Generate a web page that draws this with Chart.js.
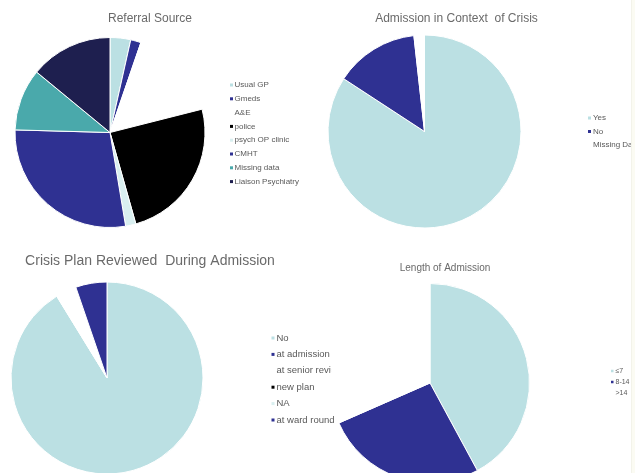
<!DOCTYPE html>
<html>
<head>
<meta charset="utf-8">
<script src="https://cdn.jsdelivr.net/npm/chart.js@4.4.1/dist/chart.umd.min.js"></script>
<style>
  html, body { margin: 0; padding: 0; background: #fff; }
  body { width: 635px; height: 473px; position: relative; overflow: hidden; }
  canvas { position: absolute; }
  #edge { position: absolute; left: 631px; top: 0; width: 4px; height: 473px; background: #fbfbf3; border-left: 1px solid #f3f3ea; }
</style>
</head>
<body>
<canvas id="referral" width="320" height="240" style="left:0;top:0"></canvas>
<canvas id="crisis" width="315" height="240" style="left:320px;top:0"></canvas>
<canvas id="plan" width="340" height="260" style="left:0;top:240px"></canvas>
<canvas id="length" width="305" height="260" style="left:330px;top:240px"></canvas>
<div id="edge"></div>
<script>
const FONT = '"Liberation Sans", Arial, sans-serif';

// colours used in the original workbook, in series order
const lightTeal = '#bbe0e3';
const blue = '#2f3192';
const white = '#ffffff';
const black = '#000000';
const paleTeal = '#d9eff0';
const teal = '#4aa9ab';
const navy = '#1e1f4f';

// Referral Source
const referralLabels = ['Usual GP', 'Gmeds', 'A&E', 'police', 'psych OP clinic', 'CMHT', 'Missing data', 'Liaison Psychiatry'];
const referralValues = [2, 1, 9, 14, 1, 16, 6, 8];

// Admission in Context of Crisis
const crisisLabels = ['Yes', 'No', 'Missing Data'];
const crisisValues = [48, 8, 1];

// Crisis Plan Reviewed During Admission
const planLabels = ['No', 'at admission', 'at senior review', 'new plan', 'NA', 'at ward round'];
const planValues = [52, 0, 2, 0, 0, 3];

// Length of Admission
const lengthLabels = ['≤7', '8-14', '>14'];
const lengthValues = [24, 15, 18];

const palette = [lightTeal, blue, white, black, paleTeal, blue, teal, navy];

// title + side legend drawn straight onto the chart canvas
const sideText = {
    id: 'sideText',
    afterDraw(chart, args, o) {
        const ctx = chart.ctx;
        ctx.save();
        ctx.textBaseline = 'middle';
        ctx.font = o.titleSize + 'px ' + FONT;
        ctx.fillStyle = '#6a6a6a';
        ctx.textAlign = 'center';
        ctx.fillText(o.title, o.titleX, o.titleY);

        const colors = chart.data.datasets[0].backgroundColor;
        ctx.font = o.size + 'px ' + FONT;
        ctx.textAlign = 'left';
        chart.data.labels.forEach((lab, i) => {
            const y = o.y + i * o.step;
            ctx.fillStyle = colors[i];
            ctx.fillRect(o.x, y - o.box / 2, o.box, o.box);
            ctx.fillStyle = '#595959';
            ctx.fillText(lab, o.x + o.box + o.gap, y);
        });
        ctx.restore();
    }
};

function makePie(id, labels, values, cx, cy, r, text) {
    const canvas = document.getElementById(id);
    const w = canvas.width, h = canvas.height;
    return new Chart(canvas, {
        type: 'pie',
        data: {
            labels: labels,
            datasets: [{
                data: values,
                backgroundColor: palette.slice(0, values.length),
                borderColor: '#ffffff',
                borderWidth: 1,
                radius: r
            }]
        },
        options: {
            responsive: false,
            animation: false,
            devicePixelRatio: 1,
            layout: {
                padding: { left: cx - r, right: w - cx - r, top: cy - r, bottom: h - cy - r }
            },
            plugins: {
                legend: { display: false },
                title: { display: false },
                tooltip: { enabled: false },
                sideText: text
            }
        },
        plugins: [sideText]
    });
}

makePie('referral', referralLabels, referralValues, 110, 132.5, 95, {
    title: 'Referral Source', titleSize: 12, titleX: 150, titleY: 19,
    x: 230, y: 85, step: 13.8, box: 3, gap: 1.5, size: 8
});

makePie('crisis', crisisLabels, crisisValues, 104.5, 131.5, 96.5, {
    title: 'Admission in Context  of Crisis', titleSize: 12, titleX: 136.5, titleY: 19,
    x: 268, y: 118, step: 13.5, box: 3, gap: 2, size: 8
});

makePie('plan', planLabels, planValues, 107, 138, 96, {
    title: 'Crisis Plan Reviewed  During Admission', titleSize: 14, titleX: 150, titleY: 21,
    x: 271.5, y: 98, step: 16.4, box: 3, gap: 2, size: 9.5
});

makePie('length', lengthLabels, lengthValues, 100, 143, 99.5, {
    title: 'Length of Admission', titleSize: 10, titleX: 115, titleY: 28,
    x: 281, y: 131, step: 11, box: 2.5, gap: 2, size: 7
});
</script>
</body>
</html>
